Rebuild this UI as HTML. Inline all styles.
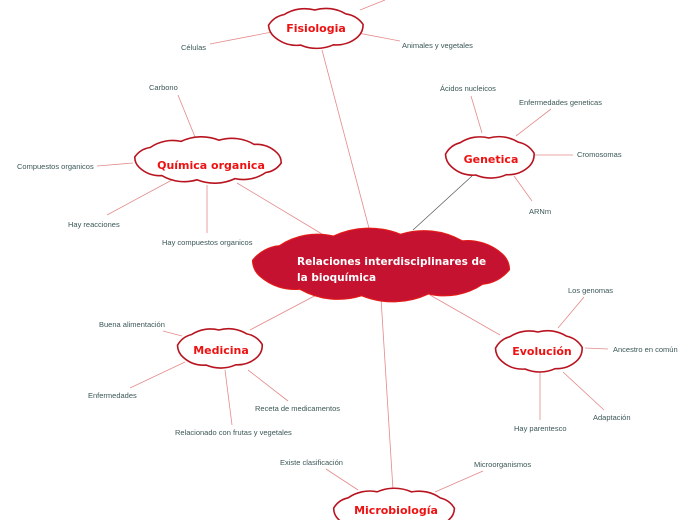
<!DOCTYPE html>
<html><head><meta charset="utf-8"><style>
html,body{margin:0;padding:0;background:#fff;width:697px;height:520px;overflow:hidden}
svg{display:block}
.l{stroke:#e48a8a;stroke-width:0.8;fill:none}
.t{font-family:"Liberation Sans",sans-serif;font-size:7.5px;fill:#3b5656}
.n{font-family:"DejaVu Sans","Liberation Sans",sans-serif;font-size:11px;font-weight:bold;fill:#ee1111;text-anchor:middle}
</style></head><body>
<svg id="s" width="697" height="520" viewBox="0 0 697 520" xmlns="http://www.w3.org/2000/svg">
<g id="lines">
<line class="l" x1="322" y1="50" x2="370" y2="232"/>
<line class="l" x1="237" y1="183" x2="322" y2="234"/>
<line x1="472" y1="176" x2="413" y2="230" stroke="#555" stroke-width="0.7"/>
<line class="l" x1="250" y1="330" x2="322" y2="292"/>
<line class="l" x1="430" y1="295" x2="500" y2="335"/>
<line class="l" x1="381" y1="298" x2="393" y2="490"/>
<line class="l" x1="360" y1="10" x2="385" y2="0"/>
<line class="l" x1="210" y1="44" x2="272" y2="32"/>
<line class="l" x1="358" y1="33" x2="400" y2="41"/>
<line class="l" x1="178" y1="95" x2="195" y2="137"/>
<line class="l" x1="97" y1="166" x2="133" y2="163"/>
<line class="l" x1="107" y1="215" x2="172" y2="180"/>
<line class="l" x1="207" y1="185" x2="207" y2="233"/>
<line class="l" x1="471" y1="96" x2="482" y2="133"/>
<line class="l" x1="551" y1="109" x2="516" y2="136"/>
<line class="l" x1="573" y1="155" x2="535" y2="155"/>
<line class="l" x1="532" y1="201" x2="514" y2="176"/>
<line class="l" x1="584" y1="297" x2="558" y2="328"/>
<line class="l" x1="608" y1="349" x2="585" y2="348"/>
<line class="l" x1="604" y1="410" x2="563" y2="372"/>
<line class="l" x1="540" y1="420" x2="540" y2="372"/>
<line class="l" x1="163" y1="331" x2="182" y2="336"/>
<line class="l" x1="130" y1="388" x2="185" y2="362"/>
<line class="l" x1="288" y1="401" x2="248" y2="370"/>
<line class="l" x1="232" y1="425" x2="225" y2="370"/>
<line class="l" x1="326" y1="469" x2="358" y2="490"/>
<line class="l" x1="483" y1="471" x2="435" y2="492"/>
</g>
<g id="clouds"></g>
<text class="n" x="316" y="32">Fisiologia</text>
<text class="n" x="211" y="169">Química organica</text>
<text class="n" x="491" y="163">Genetica</text>
<text class="n" x="221" y="354">Medicina</text>
<text class="n" x="542" y="355">Evolución</text>
<text class="n" x="396" y="514">Microbiología</text>
<text font-family="DejaVu Sans,Liberation Sans,sans-serif" font-size="10.5" font-weight="bold" fill="#fff"><tspan x="297" y="265">Relaciones interdisciplinares de</tspan><tspan x="297" y="281">la bioquímica</tspan></text>
<text class="t" x="181" y="50">Células</text>
<text class="t" x="402" y="48">Animales y vegetales</text>
<text class="t" x="149" y="90">Carbono</text>
<text class="t" x="17" y="169">Compuestos organicos</text>
<text class="t" x="68" y="227">Hay reacciones</text>
<text class="t" x="162" y="245">Hay compuestos organicos</text>
<text class="t" x="440" y="91">Ácidos nucleicos</text>
<text class="t" x="519" y="105">Enfermedades geneticas</text>
<text class="t" x="577" y="157">Cromosomas</text>
<text class="t" x="529" y="214">ARNm</text>
<text class="t" x="568" y="293">Los genomas</text>
<text class="t" x="613" y="352">Ancestro en común</text>
<text class="t" x="593" y="420">Adaptación</text>
<text class="t" x="514" y="431">Hay parentesco</text>
<text class="t" x="99" y="327">Buena alimentación</text>
<text class="t" x="88" y="398">Enfermedades</text>
<text class="t" x="255" y="411">Receta de medicamentos</text>
<text class="t" x="175" y="435">Relacionado con frutas y vegetales</text>
<text class="t" x="280" y="465">Existe clasificación</text>
<text class="t" x="474" y="467">Microorganismos</text>
</svg>
<script>
(function(){
var g=document.getElementById('clouds');
function cloud(cx,cy,rx,ry,n,fill,stroke,sw){
 var d='',pts=[];
 for(var i=0;i<n;i++){var a=Math.PI+i*2*Math.PI/n+0.15;pts.push([cx+rx*Math.cos(a),cy+ry*Math.sin(a)]);}
 d='M'+pts[0][0].toFixed(1)+','+pts[0][1].toFixed(1);
 for(var i=0;i<n;i++){var p=pts[i],q=pts[(i+1)%n];var ch=Math.hypot(q[0]-p[0],q[1]-p[1]);var r=ch*1.25;
  d+=' A'+r.toFixed(1)+','+r.toFixed(1)+' 0 0 1 '+q[0].toFixed(1)+','+q[1].toFixed(1);}
 d+='Z';
 var e=document.createElementNS('http://www.w3.org/2000/svg','path');
 e.setAttribute('d',d);e.setAttribute('fill',fill);e.setAttribute('stroke',stroke);e.setAttribute('stroke-width',sw);
 g.appendChild(e);
}
cloud(316,28,48,18,9,'#fff','#b81420',1.6);
cloud(208,160,74,20,12,'#fff','#b81420',1.6);
cloud(490,157,45,19,9,'#fff','#b81420',1.6);
cloud(381,265,130,31,12,'#c41230','#e21a1a',1.2);
cloud(220,348,43,18,9,'#fff','#b81420',1.6);
cloud(539,351,44,19,9,'#fff','#b81420',1.6);
cloud(394,511,61,20,11,'#fff','#b81420',1.6);
})();
</script>
</body></html>
